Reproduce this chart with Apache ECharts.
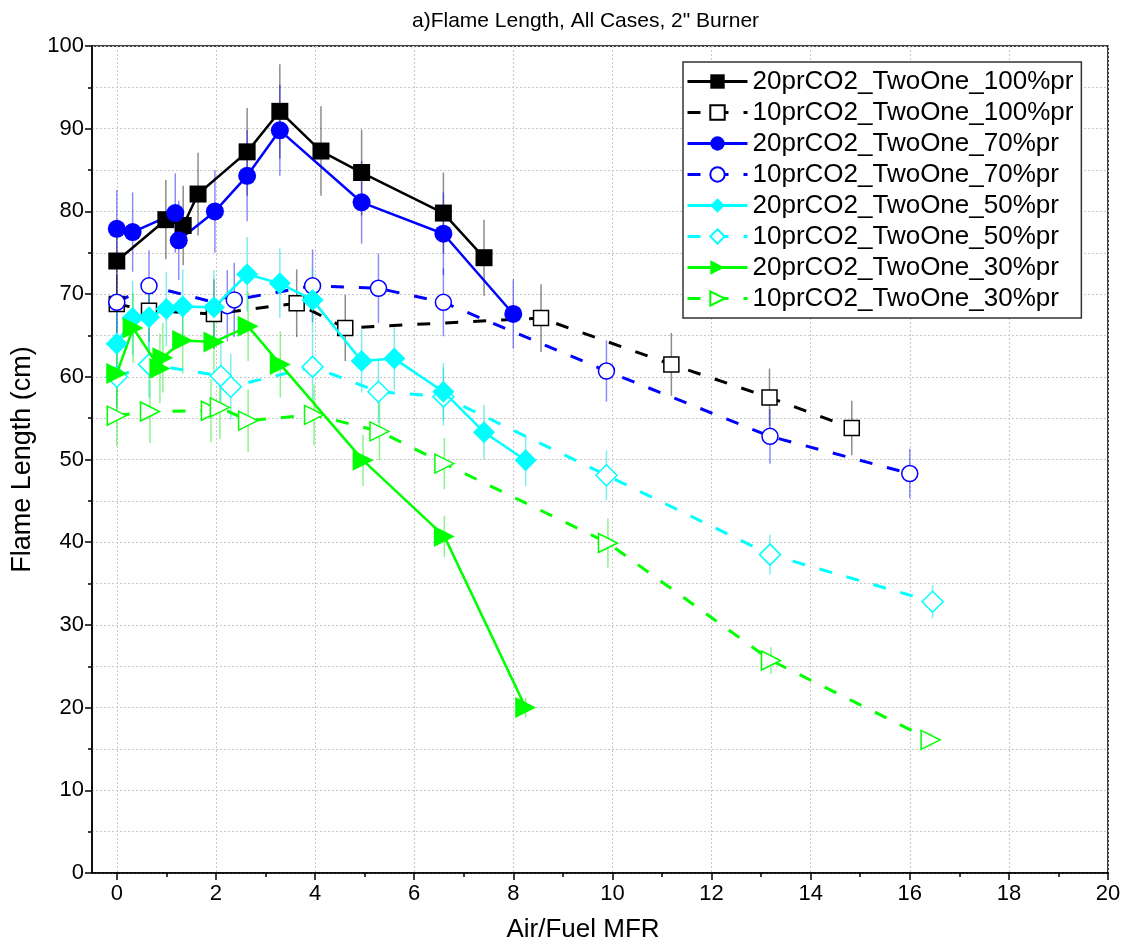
<!DOCTYPE html>
<html>
<head>
<meta charset="utf-8">
<script src="https://cdn.jsdelivr.net/npm/echarts@6/dist/echarts.min.js"></script>
<style>
  html, body { margin: 0; padding: 0; background: #fff; }
  #chart { width: 1131px; height: 949px; }
</style>
</head>
<body>
<div id="chart"></div>
<script>
  // tick values
  const xTicks = [0, 2, 4, 6, 8, 10, 12, 14, 16, 18, 20]
  const xMinorTicks = [1, 3, 5, 7, 9, 11, 13, 15, 17, 19]

  // 20prCO2_TwoOne_100%pr
  const x100a = [0, 0.99, 1.34, 1.64, 2.63, 3.29, 4.12, 4.94, 6.59, 7.41]
  const y100a = [74.0, 79.0, 78.3, 82.1, 87.2, 92.1, 87.3, 84.7, 79.8, 74.4]
  const e100a = [5.0, 4.8, 4.8, 5.0, 5.3, 5.7, 5.4, 5.2, 4.9, 4.6]
  // 10prCO2_TwoOne_100%pr
  const x100b = [0, 0.65, 1.96, 3.63, 4.61, 8.56, 11.19, 13.17, 14.83]
  const y100b = [68.8, 68.0, 67.6, 68.9, 65.9, 67.1, 61.5, 57.5, 53.8]
  const e100b = [3.5, 3.8, 4.2, 4.1, 4.0, 4.1, 3.8, 3.5, 3.3]
  // 20prCO2_TwoOne_70%pr
  const x70a = [0, 0.32, 1.18, 1.25, 1.98, 2.63, 3.29, 4.94, 6.59, 8.0]
  const y70a = [77.9, 77.5, 79.8, 76.5, 80.0, 84.3, 89.8, 81.1, 77.3, 67.6]
  const e70a = [4.7, 4.8, 4.8, 4.8, 5.0, 5.5, 5.5, 5.0, 5.0, 4.2]
  // 10prCO2_TwoOne_70%pr
  const x70b = [0, 0.65, 2.23, 2.37, 3.95, 5.28, 6.59, 9.88, 13.18, 16.0]
  const y70b = [69.0, 71.0, 68.6, 69.3, 71.0, 70.7, 69.0, 60.7, 52.8, 48.3]
  const e70b = [4.0, 4.3, 4.3, 4.5, 4.4, 4.2, 4.1, 3.7, 3.3, 3.0]
  // 20prCO2_TwoOne_50%pr
  const x50a = [0, 0.32, 0.65, 1.0, 1.33, 1.96, 2.63, 3.29, 3.95, 4.94, 5.6, 6.59, 7.41, 8.25]
  const y50a = [64.0, 67.1, 67.2, 68.2, 68.5, 68.4, 72.4, 71.3, 69.3, 61.9, 62.2, 58.2, 53.3, 49.9]
  const e50a = [4.5, 4.5, 4.5, 4.5, 4.5, 4.5, 4.5, 4.2, 4.0, 3.8, 3.8, 3.5, 3.3, 3.1]
  // 10prCO2_TwoOne_50%pr
  const x50b = [0, 0.65, 2.1, 2.3, 3.95, 5.28, 6.59, 9.88, 13.18, 16.46]
  const y50b = [60.0, 61.5, 60.1, 58.8, 61.2, 58.2, 57.6, 48.1, 38.5, 32.8]
  const e50b = [4.0, 4.0, 4.0, 4.0, 4.0, 3.8, 3.5, 3.0, 2.4, 2.0]
  // 20prCO2_TwoOne_30%pr
  const x30a = [0, 0.33, 0.87, 0.93, 1.33, 1.96, 2.65, 3.3, 4.97, 6.61, 8.25]
  const y30a = [60.4, 65.9, 61.0, 62.3, 64.4, 64.2, 66.1, 61.5, 49.9, 40.7, 20.0]
  const e30a = [4.0, 4.2, 4.2, 4.2, 4.0, 4.0, 4.2, 4.0, 3.1, 2.5, 1.2]
  // 10prCO2_TwoOne_30%pr
  const x30b = [0, 0.67, 1.9, 2.08, 2.65, 3.98, 5.3, 6.61, 9.91, 13.2, 16.42]
  const y30b = [55.3, 55.8, 55.9, 56.3, 54.7, 55.4, 53.4, 49.5, 39.9, 25.7, 16.1]
  const e30b = [3.7, 3.8, 3.8, 3.8, 3.8, 3.7, 3.5, 3.1, 3.0, 1.6, 0.8]

  const FONT = 'Liberation Sans, Arial, sans-serif'
  const GRID_LINE = { color: '#c8c8c8', type: [2, 2], width: 1 }

  function pairs (xs, ys) {
    return xs.map((x, i) => [x, ys[i]])
  }

  // vertical error bars, drawn as a custom series
  function errorBars (name, xs, ys, es, color) {
    return {
      type: 'custom',
      name: name + '_err',
      silent: true,
      z: 1,
      encode: { x: 0, y: [1, 2] },
      data: xs.map((x, i) => [x, ys[i] - es[i], ys[i] + es[i]]),
      renderItem: function (params, api) {
        const p1 = api.coord([api.value(0), api.value(1)])
        const p2 = api.coord([api.value(0), api.value(2)])
        return {
          type: 'line',
          shape: { x1: p1[0], y1: p1[1], x2: p2[0], y2: p2[1] },
          style: { stroke: color, lineWidth: 1.5 }
        }
      }
    }
  }

  function lineSeries (name, xs, ys, opt) {
    const dashed = opt.dashed
    return {
      type: 'line',
      name: name,
      data: pairs(xs, ys),
      symbol: opt.symbol,
      symbolSize: opt.size,
      symbolRotate: opt.rotate || 0,
      showAllSymbol: true,
      z: dashed ? 3 : 4,
      lineStyle: {
        color: opt.color,
        width: dashed ? 3 : 2.5,
        type: dashed ? [13, 15] : 'solid'
      },
      itemStyle: dashed
        ? { color: '#ffffff', borderColor: opt.color, borderWidth: 1.5 }
        : { color: opt.color, borderWidth: 0 },
      emphasis: { disabled: true }
    }
  }

  const names = [
    '20prCO2_TwoOne_100%pr', '10prCO2_TwoOne_100%pr',
    '20prCO2_TwoOne_70%pr', '10prCO2_TwoOne_70%pr',
    '20prCO2_TwoOne_50%pr', '10prCO2_TwoOne_50%pr',
    '20prCO2_TwoOne_30%pr', '10prCO2_TwoOne_30%pr'
  ]

  const chart = echarts.init(document.getElementById('chart'))
  chart.setOption({
    animation: false,
    backgroundColor: '#ffffff',
    title: {
      text: 'a)Flame Length, All Cases, 2" Burner',
      left: 407,
      top: 6,
      textStyle: { fontFamily: FONT, fontSize: 21, fontWeight: 'normal', color: '#000' }
    },
    grid: {
      left: 92, right: 23, top: 46, bottom: 76,
      show: true, borderColor: '#000', borderWidth: 1.5,
      containLabel: false
    },
    legend: {
      data: names,
      orient: 'vertical',
      left: 683,
      top: 62,
      padding: [6, 8, 6, 3],
      itemWidth: 60,
      itemHeight: 18,
      itemGap: 4,
      borderColor: '#333',
      borderWidth: 1.5,
      backgroundColor: '#fff',
      lineStyle: { width: 3 },
      textStyle: { fontFamily: FONT, fontSize: 26, color: '#000', lineHeight: 27 }
    },
    xAxis: [{
      type: 'value',
      min: -0.5,
      max: 20,
      splitNumber: 20,
      name: 'Air/Fuel MFR',
      nameLocation: 'middle',
      nameGap: 44,
      nameTextStyle: { fontFamily: FONT, fontSize: 26, color: '#000', padding: [0, 34, 0, 0] },
      axisLine: { show: true, onZero: false, lineStyle: { color: '#000', width: 1.5 } },
      axisTick: { show: true, length: 7, customValues: xTicks, lineStyle: { color: '#000', width: 1.5 } },
      axisLabel: { customValues: xTicks, fontFamily: FONT, fontSize: 22, color: '#000', margin: 10 },
      splitLine: { show: true, lineStyle: GRID_LINE }
    }, {
      type: 'value',
      min: -0.5,
      max: 20,
      position: 'bottom',
      axisLine: { show: false, onZero: false },
      axisTick: { show: true, length: 4, customValues: xMinorTicks, lineStyle: { color: '#000', width: 1.5 } },
      axisLabel: { show: false },
      splitLine: { show: false }
    }],
    yAxis: {
      type: 'value',
      min: 0,
      max: 100,
      interval: 10,
      name: 'Flame Length (cm)',
      nameLocation: 'middle',
      nameGap: 54,
      nameTextStyle: { fontFamily: FONT, fontSize: 27, color: '#000' },
      axisLine: { show: true, onZero: false, lineStyle: { color: '#000', width: 1.5 } },
      axisTick: { show: true, length: 7, lineStyle: { color: '#000', width: 1.5 } },
      minorTick: { show: true, splitNumber: 2, length: 4, lineStyle: { color: '#000', width: 1.5 } },
      axisLabel: { fontFamily: FONT, fontSize: 22, color: '#000', margin: 8 },
      splitLine: { show: true, lineStyle: GRID_LINE },
      minorSplitLine: { show: true, lineStyle: GRID_LINE }
    },
    series: [
      errorBars('100b', x100b, y100b, e100b, 'rgba(0,0,0,0.45)'),
      errorBars('70b', x70b, y70b, e70b, 'rgba(0,0,255,0.45)'),
      errorBars('50b', x50b, y50b, e50b, 'rgba(0,220,220,0.5)'),
      errorBars('30b', x30b, y30b, e30b, 'rgba(0,230,0,0.45)'),
      errorBars('100a', x100a, y100a, e100a, 'rgba(0,0,0,0.45)'),
      errorBars('70a', x70a, y70a, e70a, 'rgba(0,0,255,0.45)'),
      errorBars('50a', x50a, y50a, e50a, 'rgba(0,220,220,0.5)'),
      errorBars('30a', x30a, y30a, e30a, 'rgba(0,230,0,0.45)'),
      lineSeries(names[1], x100b, y100b, { color: '#000000', symbol: 'rect', size: 15, dashed: true }),
      lineSeries(names[3], x70b, y70b, { color: '#0000ff', symbol: 'circle', size: 16, dashed: true }),
      lineSeries(names[5], x50b, y50b, { color: '#00ffff', symbol: 'diamond', size: 21, dashed: true }),
      lineSeries(names[7], x30b, y30b, { color: '#00ff00', symbol: 'triangle', size: 19, rotate: -90, dashed: true }),
      lineSeries(names[0], x100a, y100a, { color: '#000000', symbol: 'rect', size: 17 }),
      lineSeries(names[2], x70a, y70a, { color: '#0000ff', symbol: 'circle', size: 18 }),
      lineSeries(names[4], x50a, y50a, { color: '#00ffff', symbol: 'diamond', size: 22 }),
      lineSeries(names[6], x30a, y30a, { color: '#00ff00', symbol: 'triangle', size: 21, rotate: -90 })
    ]
  })
</script>
</body>
</html>
